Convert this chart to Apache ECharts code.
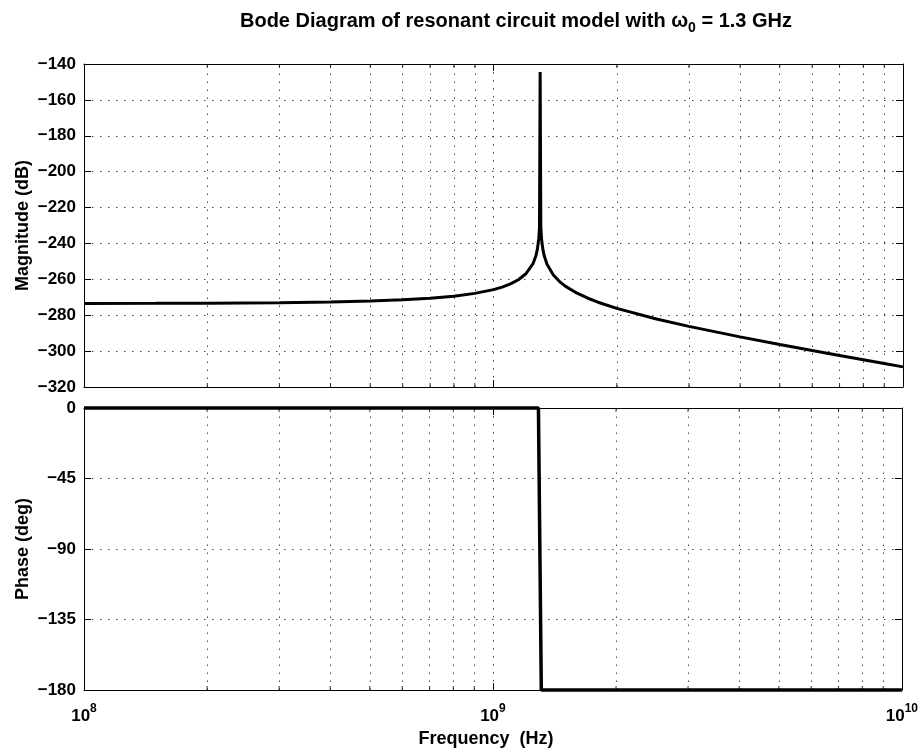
<!DOCTYPE html>
<html>
<head>
<meta charset="utf-8">
<script src="https://cdn.jsdelivr.net/npm/echarts@6/dist/echarts.min.js"></script>
<style>
  html, body { margin: 0; padding: 0; background: #fff; }
  #chart { width: 921px; height: 751px; }
</style>
</head>
<body>
<div id="chart"></div>
<script>
// Magnitude response samples (Hz, dB)
const freqHz = [1e8, 1.5e8, 2e8, 3e8, 4e8, 5e8, 6e8, 7e8, 8e8, 9e8, 1e9, 1.05e9, 1.1e9, 1.15e9, 1.2e9, 1.25e9,
  1.27e9, 1.28e9, 1.29e9, 1.295e9, 1.3e9, 1.305e9, 1.31e9, 1.32e9, 1.33e9, 1.35e9, 1.4e9, 1.45e9, 1.5e9,
  1.6e9, 1.7e9, 1.8e9, 2e9, 2.5e9, 3e9, 4e9, 5e9, 6e9, 7e9, 8e9, 9e9, 1e10];
const magDb = [-273.45, -273.38, -273.29, -273.02, -272.64, -272.11, -271.42, -270.53, -269.37, -267.83, -265.72,
  -264.32, -262.57, -260.25, -256.90, -251.05, -246.68, -243.19, -237.21, -231.21, -144.4, -231.22, -237.28,
  -243.33, -246.88, -251.39, -257.57, -261.25, -263.91, -267.73, -270.53, -272.75, -276.21, -282.12, -286.22,
  -292.06, -296.29, -299.65, -302.44, -304.83, -306.93, -308.79];

// Phase response samples (Hz, degrees)
const phaseFreqHz = [1e8, 1.292e9, 1.313e9, 1e10];
const phaseDeg = [0, 0, -180, -180];

// Minor decade gridline / tick positions
const minorFreqs = [2e8, 3e8, 4e8, 5e8, 6e8, 7e8, 8e8, 9e8, 2e9, 3e9, 4e9, 5e9, 6e9, 7e9, 8e9, 9e9];

// Axis ranges
const magTicks = { min: -320, max: -140, step: 20 };
const phaseTicks = { min: -180, max: 0, step: 45 };
const freqRange = { min: 1e8, max: 1e10 };

const FONT = '"Liberation Sans", Arial, Helvetica, sans-serif';
const chart = echarts.init(document.getElementById('chart'), null, { renderer: 'canvas' });

const minus = v => (v < 0 ? '\u2212' : '') + Math.abs(v);
const dotted = { color: '#4a4a4a', width: 1, type: [1.5, 6.5] };

function xAxisPair(gridIndex, withLabels) {
  const base = {
    gridIndex, type: 'log', logBase: 10, min: freqRange.min, max: freqRange.max,
    axisLine: { show: true, onZero: false, lineStyle: { color: '#000', width: 1 } },
    axisTick: { show: true, inside: true, length: 7, lineStyle: { color: '#000' } },
    minorTick: { show: false }
  };
  return [
    Object.assign({}, base, {
      position: 'bottom',
      splitLine: { show: true, lineStyle: dotted },
      axisLabel: withLabels ? {
        show: true, margin: 13,
        formatter: v => '{b|10}{s|' + Math.round(Math.log10(v)) + '}',
        rich: {
          b: { fontFamily: FONT, fontWeight: 'bold', fontSize: 17, color: '#000' },
          s: { fontFamily: FONT, fontWeight: 'bold', fontSize: 12, color: '#000', padding: [0, 0, 15, 0] }
        }
      } : { show: false },
      name: withLabels ? 'Frequency  (Hz)' : '',
      nameLocation: 'middle', nameGap: 40, nameMoveOverlap: false,
      nameTextStyle: { fontFamily: FONT, fontWeight: 'bold', fontSize: 18, color: '#000', padding: [0, 14, 0, 0] }
    }),
    Object.assign({}, base, { position: 'top', splitLine: { show: false }, axisLabel: { show: false } })
  ];
}

function yAxisPair(gridIndex, r, name) {
  const base = {
    gridIndex, type: 'value', min: r.min, max: r.max, interval: r.step,
    axisLine: { show: true, onZero: false, lineStyle: { color: '#000', width: 1 } },
    axisTick: { show: true, inside: true, length: 7, lineStyle: { color: '#000' } }
  };
  return [
    Object.assign({}, base, {
      position: 'left',
      splitLine: { show: true, lineStyle: dotted },
      axisLabel: { show: true, margin: 8, formatter: minus, fontFamily: FONT, fontWeight: 'bold', fontSize: 17, color: '#000' },
      name, nameLocation: 'middle', nameGap: 52, nameMoveOverlap: false,
      nameTextStyle: { fontFamily: FONT, fontWeight: 'bold', fontSize: 18, color: '#000' }
    }),
    Object.assign({}, base, { position: 'right', splitLine: { show: false }, axisLabel: { show: false } })
  ];
}

function minorGridMarkLine() {
  return {
    silent: true, symbol: ['none', 'none'], animation: false,
    label: { show: false },
    lineStyle: dotted,
    emphasis: { disabled: true },
    data: minorFreqs.map(f => ({ xAxis: f }))
  };
}

function minorTickSeries(xi, yi, yVal, offset) {
  return {
    type: 'scatter', xAxisIndex: xi, yAxisIndex: yi, silent: true, animation: false,
    symbol: 'rect', symbolSize: [1, 4], symbolOffset: [0, offset],
    itemStyle: { color: '#000' },
    data: minorFreqs.map(f => [f, yVal]), z: 5
  };
}

const option = {
  backgroundColor: '#fff',
  animation: false,
  title: {
    text: 'Bode Diagram of resonant circuit model with \u03c9{sub|0} = 1.3 GHz',
    left: 511, top: 2, textAlign: 'center',
    textStyle: {
      fontFamily: FONT, fontWeight: 'bold', fontSize: 20, color: '#000',
      rich: { sub: { fontFamily: FONT, fontWeight: 'bold', fontSize: 14, color: '#000', padding: [14, 0, 0, 0] } }
    }
  },
  grid: [
    { left: 84, top: 64, width: 819, height: 323 },
    { left: 84, top: 408, width: 819, height: 282 }
  ],
  xAxis: [...xAxisPair(0, false), ...xAxisPair(1, true)],
  yAxis: [...yAxisPair(0, magTicks, 'Magnitude (dB)'), ...yAxisPair(1, phaseTicks, 'Phase (deg)')],
  series: [
    {
      name: 'Magnitude', type: 'line', xAxisIndex: 0, yAxisIndex: 0,
      data: freqHz.map((f, i) => [f, magDb[i]]),
      showSymbol: false, clip: false, z: 10,
      lineStyle: { color: '#000', width: 3 },
      markLine: minorGridMarkLine()
    },
    {
      name: 'Phase', type: 'line', xAxisIndex: 2, yAxisIndex: 2,
      data: phaseFreqHz.map((f, i) => [f, phaseDeg[i]]),
      showSymbol: false, clip: false, z: 10,
      lineStyle: { color: '#000', width: 3.5 },
      markLine: minorGridMarkLine()
    },
    minorTickSeries(0, 0, magTicks.min, -2),
    minorTickSeries(0, 0, magTicks.max, 2),
    minorTickSeries(2, 2, phaseTicks.min, -2),
    minorTickSeries(2, 2, phaseTicks.max, 2)
  ]
};

chart.setOption(option);
</script>
</body>
</html>
